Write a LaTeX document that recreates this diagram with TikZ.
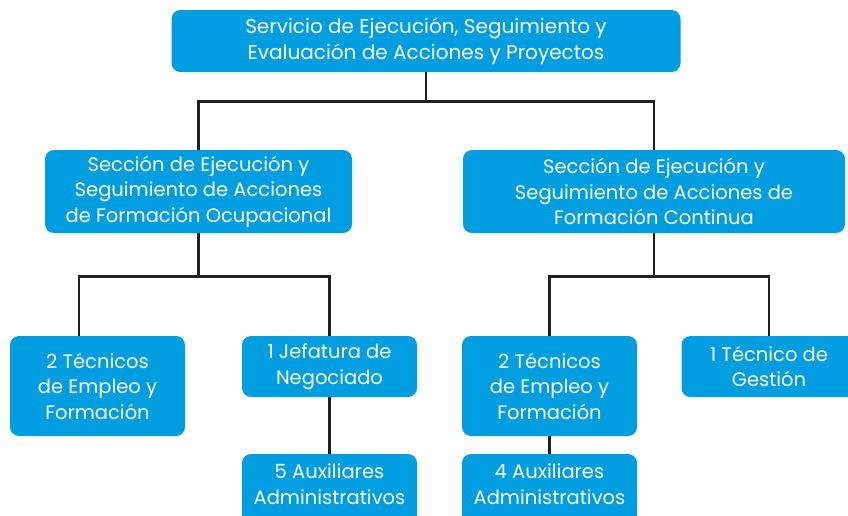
\documentclass[tikz,border=0pt]{standalone}
\usepackage{fontspec}
\setmainfont{Poppins}
\usetikzlibrary{positioning}
\definecolor{boxblue}{RGB}{0,158,224}
\definecolor{linedark}{RGB}{35,31,32}

\begin{document}
\begin{tikzpicture}[
                          node distance=3cm,
                          on grid,
                          unit/.style={rectangle, rounded corners=9pt, fill=boxblue,
                            text=white, align=center, inner sep=0pt,
                            font=\fontsize{19.5pt}{25.5pt}\selectfont},
                          cutunit/.style={unit, minimum width=175pt, minimum height=70pt},
                          link/.style={draw=linedark, line width=2.6pt}]
                      \useasboundingbox (0,0) rectangle (848pt,-515pt);
                      \clip (0,0) rectangle (848pt,-515pt);
                      \node[unit, minimum width=509pt, minimum height=62pt, font=\fontsize{20pt}{25.5pt}\selectfont] (servicio) at (426pt,-41pt)
                        {Servicio de Ejecución, Seguimiento y\\Evaluación de Acciones y Proyectos};
                      \node[unit, minimum width=307pt, minimum height=83pt] (sec_ocup) [below left=150.5pt and 227.5pt of servicio]
                        {Sección de Ejecución y\\Seguimiento de Acciones\\de Formación Ocupacional};
                      \node[unit, minimum width=382pt, minimum height=83pt] (sec_cont) [below right=150.5pt and 228pt of servicio]
                        {Sección de Ejecución y\\Seguimiento de Acciones de\\Formación Continua};
                      \node[unit, minimum width=175pt, minimum height=100pt] (tec_ocup) [below left=194.5pt and 101pt of sec_ocup]
                        {2 Técnicos\\de Empleo y\\Formación};
                      \node[unit, minimum width=175pt, minimum height=61pt] (jefatura) [below right=175pt and 131pt of sec_ocup]
                        {1 Jefatura de\\Negociado};
                      \node[unit, minimum width=175pt, minimum height=100pt] (tec_cont) [below left=194.5pt and 104.5pt of sec_cont]
                        {2 Técnicos\\de Empleo y\\Formación};
                      \node[unit, minimum width=175pt, minimum height=61pt] (gestion) [below right=175pt and 115pt of sec_cont]
                        {1 Técnico de\\Gestión};
                      % bottom boxes run past the lower edge
                      \node[cutunit] (aux_ocup) [below=122.5pt of jefatura] {};
                      \node[cutunit] (aux_cont) [below=103pt of tec_cont] {};
                      \node[unit, fill=none] (aux_ocup_txt) at ([yshift=-30.5pt]aux_ocup.north) {5 Auxiliares\\Administrativos};
                      \node[unit, fill=none] (aux_cont_txt) at ([yshift=-30.5pt]aux_cont.north) {4 Auxiliares\\Administrativos};
                      \coordinate (tec_ocup_in) at ([xshift=-18.5pt]tec_ocup.north);
                      \draw[link] (servicio.south) -- ++(0,-29pt) -| (sec_ocup.north);
                      \draw[link] (servicio.south) -- ++(0,-29pt) -| (sec_cont.north);
                      \draw[link] (sec_ocup.south) -- ++(0,-43pt) -| (tec_ocup_in);
                      \draw[link] (sec_ocup.south) -- ++(0,-43pt) -| (jefatura.north);
                      \draw[link] (sec_cont.south) -- ++(0,-43pt) -| (tec_cont.north);
                      \draw[link] (sec_cont.south) -- ++(0,-43pt) -| (gestion.north);
                      \draw[link] (jefatura) -- (aux_ocup);
                      \draw[link] (tec_cont) -- (aux_cont);
                  \end{tikzpicture}
\end{document}
